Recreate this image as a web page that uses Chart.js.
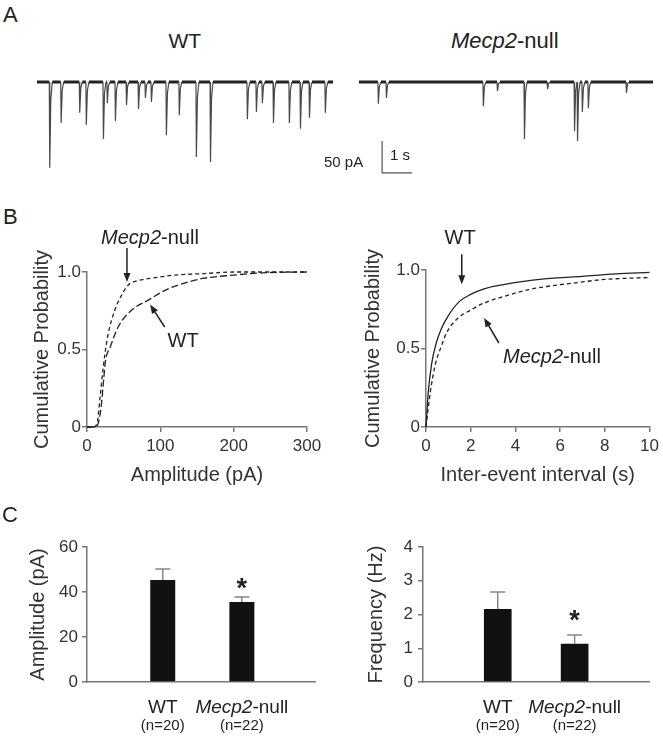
<!DOCTYPE html>
<html>
<head>
<meta charset="utf-8">
<script src="https://cdn.jsdelivr.net/npm/chart.js@4.4.0/dist/chart.umd.min.js"></script>
<style>
html,body{margin:0;padding:0;background:#fff;}
#fig{position:relative;width:663px;height:740px;overflow:hidden;font-family:'Liberation Sans',Arial,sans-serif;color:#222;}
#fig canvas{position:absolute;}
.lbl{position:absolute;white-space:nowrap;line-height:1;}
</style>
</head>
<body>
<div id="fig">
  <canvas id="wtTrace" width="296" height="110" style="left:37px;top:70px;width:296px;height:110px"></canvas>
  <canvas id="nullTrace" width="294" height="110" style="left:359px;top:70px;width:294px;height:110px"></canvas>
  <canvas id="ampCdf" width="330" height="260" style="left:0;top:230px;width:330px;height:260px"></canvas>
  <canvas id="iviCdf" width="333" height="260" style="left:330px;top:230px;width:333px;height:260px"></canvas>
  <canvas id="ampBar" width="330" height="240" style="left:0;top:500px;width:330px;height:240px"></canvas>
  <canvas id="freqBar" width="333" height="240" style="left:330px;top:500px;width:333px;height:240px"></canvas>
</div>
<script>
// ---- data ----
// A: sample traces, event time (s) and amplitude (pA)
const wtLen = 9.87;
const wtTimes = [0.41,0.79,1.41,1.63,2.2,2.33,2.6,2.97,3.37,3.6,3.8,4.3,4.73,5.3,5.77,7.0,7.3,7.5,7.87,8.4,8.77,9.07,9.6];
const wtAmps  = [134,64,48,67,89,33,61,36,42,25,31,83,52,117,125,58,47,33,64,64,73,56,48];
const nullLen = 9.8;
const nullTimes = [0.63,0.9,4.13,4.6,5.5,6.27,7.17,7.27,7.43,7.63,8.9];
const nullAmps  = [34,25,38,14,89,11,77,92,47,41,17];
const scaleBarT = [0.77, 0.77, 1.77];   // 1 s
const scaleBarI = [-92, -142, -142];    // 50 pA

// B: cumulative distributions
const ampWT_x   = [0,10,15,19,23,25,32,43,60,84,110,134,160,200,240,300];
const ampWT_y   = [0,0,0.02,0.12,0.32,0.42,0.52,0.65,0.75,0.82,0.89,0.93,0.96,0.98,0.995,1.0];
const ampNull_x = [0,9,14,18,22,28,38,46,56,70,88,120,160,200,300];
const ampNull_y = [0,0,0.03,0.2,0.38,0.58,0.755,0.84,0.915,0.945,0.96,0.98,0.99,1.0,1.0];
const iviWT_x   = [0,0.1,0.25,0.45,0.7,1.0,1.5,2.0,2.6,3.4,4.2,5.4,7,8.5,10];
const iviWT_y   = [0,0.22,0.4,0.53,0.63,0.71,0.8,0.845,0.88,0.905,0.925,0.945,0.96,0.975,0.985];
const iviNull_x = [0,0.1,0.2,0.42,0.7,0.92,1.4,2.0,2.6,3.45,4.6,5.4,6.5,8,10];
const iviNull_y = [0,0.12,0.23,0.4,0.52,0.6,0.69,0.745,0.79,0.83,0.875,0.895,0.915,0.94,0.952];

// C: means and SEM
const groups = ['WT','Mecp2-null'];
const groupN = ['(n=20)','(n=22)'];
const ampMean = [45.3, 35.6];
const ampSem  = [4.9, 2.2];
const freqMean = [2.16, 1.13];
const freqSem  = [0.51, 0.26];
const signif = [false, true];

// ---- style ----
const FONT = "'Liberation Sans', Arial, sans-serif";
const AXIS = '#777';
Chart.defaults.font.family = FONT;
Chart.defaults.color = '#333';
Chart.defaults.animation = false;
Chart.defaults.plugins.legend.display = false;
Chart.defaults.plugins.tooltip.enabled = false;

const fig = document.getElementById('fig');
function label(html, x, base, size, center){
  const d = document.createElement('div');
  d.className = 'lbl'; d.innerHTML = html;
  d.style.fontSize = size + 'px';
  d.style.top = (base - 0.8465*size) + 'px';
  fig.appendChild(d);
  d.style.left = (center ? x - d.offsetWidth/2 : x) + 'px';
}

// ---- A: traces ----
function traceData(times, amps, len){
  const pts = [{x:0, y:0}];
  times.forEach((t,i)=>{
    const a = amps[i];
    pts.push({x:t, y:0}, {x:t+0.015, y:-a}, {x:t+0.05, y:-a*0.2}, {x:t+0.1, y:0});
  });
  pts.push({x:len, y:0});
  return pts;
}
const flat = c => c.p0.parsed.y===0 && c.p1.parsed.y===0;
function traceChart(id, times, amps, len, extra){
  const datasets = [{
    data: traceData(times, amps, len), borderColor:'#222', pointRadius:0,
    segment:{ borderWidth: c => flat(c) ? 3 : 1.2, borderColor: c => flat(c) ? '#222' : '#4a4a4a' }
  }];
  if(extra) datasets.push(extra);
  new Chart(document.getElementById(id), {
    type:'line',
    data:{ datasets },
    options:{ responsive:false, layout:{padding:0}, clip:false,
      scales:{ x:{type:'linear', display:false, min:0, max:len},
               y:{display:false, min:-153.125, max:18.75} } }
  });
}
traceChart('wtTrace', wtTimes, wtAmps, wtLen);
traceChart('nullTrace', nullTimes, nullAmps, nullLen, {
  data: scaleBarT.map((t,i)=>({x:t, y:scaleBarI[i]})), borderColor:'#555', borderWidth:1.2, pointRadius:0
});

// ---- B: cumulative probability ----
const arrowPlugin = {
  id:'arrows',
  afterDraw(chart, args, opts){
    const {ctx, scales:{x, y}} = chart;
    (opts.list||[]).forEach(a=>{
      const x0=x.getPixelForValue(a.from[0]), y0=y.getPixelForValue(a.from[1]);
      const x1=x.getPixelForValue(a.to[0]),   y1=y.getPixelForValue(a.to[1]);
      const ang = Math.atan2(y1-y0, x1-x0), L=9, W=3.5;
      ctx.save();
      ctx.strokeStyle='#222'; ctx.fillStyle='#222'; ctx.lineWidth=1.5;
      ctx.beginPath(); ctx.moveTo(x0,y0);
      ctx.lineTo(x1-Math.cos(ang)*L*0.8, y1-Math.sin(ang)*L*0.8); ctx.stroke();
      ctx.beginPath(); ctx.moveTo(x1,y1);
      ctx.lineTo(x1-Math.cos(ang)*L-Math.sin(ang)*W, y1-Math.sin(ang)*L+Math.cos(ang)*W);
      ctx.lineTo(x1-Math.cos(ang)*L+Math.sin(ang)*W, y1-Math.sin(ang)*L-Math.cos(ang)*W);
      ctx.closePath(); ctx.fill();
      ctx.restore();
    });
  }
};
function xy(xs, ys){ return xs.map((v,i)=>({x:v, y:ys[i]})); }
function cdfChart(id, series, xMax, xStep, xTitle, arrows, box){
  new Chart(document.getElementById(id), {
    type:'scatter',
    data:{ datasets: series.map(s=>({
      data: xy(s.x, s.y), showLine:true, pointRadius:0, borderColor:'#222',
      borderWidth:1.3, borderDash:s.dash, cubicInterpolationMode:'monotone'
    })) },
    options:{ responsive:false, clip:false,
      layout:{ padding:{left:0, top:box.top, right:box.right, bottom:0} },
      scales:{
        x:{ type:'linear', min:0, max:xMax,
            ticks:{stepSize:xStep, font:{size:17}, padding:4, maxRotation:0},
            grid:{drawOnChartArea:false, drawTicks:true, tickLength:5, color:AXIS, lineWidth:1.5},
            border:{display:true, color:AXIS, width:1.5},
            title:{display:true, text:xTitle, font:{size:20}, color:'#333', padding:{top:0, bottom:3}},
            afterFit: s => { s.height = box.xh; } },
        y:{ min:0, max:1,
            ticks:{stepSize:0.5, font:{size:17}, padding:1, callback:v => v===0 ? '0' : v.toFixed(1)},
            grid:{drawOnChartArea:false, drawTicks:true, tickLength:5, color:AXIS, lineWidth:1.5},
            border:{display:true, color:AXIS, width:1.5},
            title:{display:true, text:'Cumulative Probability', font:{size:20}, color:'#333', padding:{top:box.tp, bottom:0}},
            afterFit: s => { s.width = box.yw; } }
      },
      plugins:{ arrows:{ list:arrows } }
    },
    plugins:[arrowPlugin]
  });
}
cdfChart('ampCdf',
  [{x:ampWT_x, y:ampWT_y, dash:[7,3]}, {x:ampNull_x, y:ampNull_y, dash:[4,3]}],
  300, 100, 'Amplitude (pA)',
  [{from:[54.5,1.155], to:[54.5,0.935]}, {from:[106,0.645], to:[86,0.79]}],
  {top:42, right:23, xh:63, yw:87, tp:30});
cdfChart('iviCdf',
  [{x:iviWT_x, y:iviWT_y, dash:[]}, {x:iviNull_x, y:iviNull_y, dash:[4,3]}],
  10, 2, 'Inter-event interval (s)',
  [{from:[1.6,1.10], to:[1.6,0.91]}, {from:[3.26,0.535], to:[2.6,0.694]}],
  {top:40, right:13, xh:63, yw:96, tp:31});

// ---- C: bar charts with SEM ----
const barPlugin = {
  id:'barExtras',
  afterDatasetsDraw(chart, args, opts){
    const {ctx, scales:{x, y}} = chart;
    const meta = chart.getDatasetMeta(0);
    ctx.save();
    meta.data.forEach((el,i)=>{
      const top = y.getPixelForValue(opts.mean[i] + opts.sem[i]);
      ctx.strokeStyle='#888'; ctx.lineWidth=1.5;
      ctx.beginPath(); ctx.moveTo(el.x, el.y); ctx.lineTo(el.x, top);
      ctx.moveTo(el.x-7.5, top); ctx.lineTo(el.x+7.5, top); ctx.stroke();
      if(signif[i]){
        ctx.fillStyle='#222'; ctx.font='bold 27px '+FONT; ctx.textAlign='center'; ctx.textBaseline='alphabetic';
        ctx.fillText('*', el.x, top - opts.star + 16);
      }
      // category labels, italic gene name
      const base = x.top + 31;
      ctx.fillStyle='#222'; ctx.textBaseline='alphabetic'; ctx.textAlign='left';
      const name = groups[i];
      if(name.indexOf('Mecp2')===0){
        const a='Mecp2', b=name.slice(5);
        ctx.font='italic 19px '+FONT; const wa=ctx.measureText(a).width;
        ctx.font='19px '+FONT; const wb=ctx.measureText(b).width;
        const sx = el.x - (wa+wb)/2;
        ctx.font='italic 19px '+FONT; ctx.fillText(a, sx, base);
        ctx.font='19px '+FONT; ctx.fillText(b, sx+wa, base);
      } else {
        ctx.font='19px '+FONT; ctx.textAlign='center'; ctx.fillText(name, el.x, base);
      }
      ctx.font='15px '+FONT; ctx.textAlign='center';
      ctx.fillText(groupN[i], el.x, base + 17);
    });
    ctx.restore();
  }
};
function barChart(id, mean, sem, yMax, yStep, yTitle, box){
  new Chart(document.getElementById(id), {
    type:'bar',
    data:{ datasets:[{ data: mean.map((v,i)=>({x:i, y:v})), backgroundColor:'#111',
      barPercentage:box.bp, categoryPercentage:1 }] },
    options:{ responsive:false,
      layout:{ padding:{left:0, top:box.top, right:box.right, bottom:0} },
      scales:{
        x:{ type:'linear', min:box.xmin, max:box.xmax, ticks:{display:false},
            grid:{display:false}, border:{display:true, color:AXIS, width:1.5},
            afterFit: s => { s.height = 58; } },
        y:{ min:0, max:yMax,
            ticks:{stepSize:yStep, font:{size:17}, padding:box.tpad},
            grid:{drawOnChartArea:false, drawTicks:true, tickLength:5, color:AXIS, lineWidth:1.5},
            border:{display:true, color:AXIS, width:1.5},
            title:{display:true, text:yTitle, font:{size:20}, color:'#333', padding:{top:box.tp, bottom:0}},
            afterFit: s => { s.width = box.yw; } }
      },
      plugins:{ barExtras:{ mean, sem, star:box.star } }
    },
    plugins:[barPlugin]
  });
}
barChart('ampBar', ampMean, ampSem, 60, 20, 'Amplitude (pA)',
  {top:47, right:15, yw:87, tp:26, tpad:4, xmin:-0.597, xmax:1.564, bp:0.56, star:16});
barChart('freqBar', freqMean, freqSem, 4, 1, 'Frequency (Hz)',
  {top:47, right:14, yw:93, tp:34.5, tpad:5, xmin:-0.605, xmax:1.6, bp:0.6, star:22});

// ---- text labels ----
label('A', 3, 23, 22);
label('WT', 185, 48, 21, true);
label('<i>Mecp2</i>-null', 505, 49, 22, true);
label('50 pA', 324, 167, 15);
label('1 s', 390, 160, 15);
label('B', 3, 225, 22);
label('<i>Mecp2</i>-null', 150, 244, 20, true);
label('WT', 183, 347, 20, true);
label('WT', 460, 244, 20, true);
label('<i>Mecp2</i>-null', 552, 363, 20, true);
label('C', 2, 523, 22);
</script>
</body>
</html>
